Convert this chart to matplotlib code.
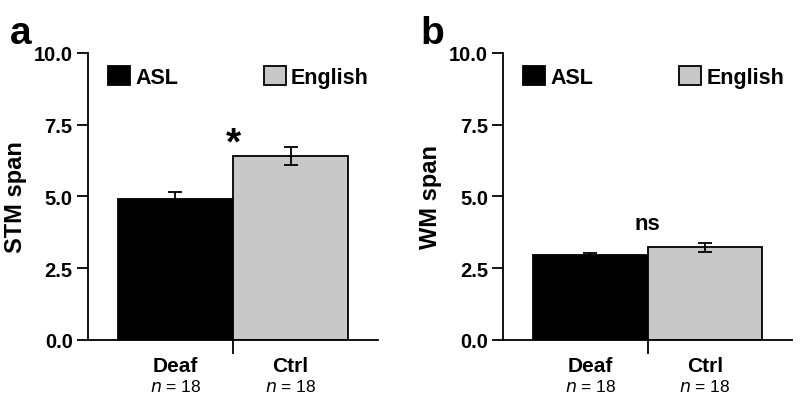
import numpy as np
import matplotlib
matplotlib.use('Agg')
import matplotlib.pyplot as plt
from matplotlib.ticker import FormatStrFormatter

plt.rcParams['font.family'] = ['Liberation Sans', 'DejaVu Sans']

### data
groups = ['Deaf', 'Ctrl']
group_n = [18, 18]
series = ['ASL', 'English']
stm_mean = [4.9, 6.4]
stm_err = [0.25, 0.32]
wm_mean = [2.97, 3.22]
wm_err = [0.05, 0.15]
yticks = [0.0, 2.5, 5.0, 7.5, 10.0]
panel_letters = ['a', 'b']
ylabels = ['STM span', 'WM span']
sig_marks = ['*', 'ns']
sig_heights = [6.85, 4.05]

bar_colors = ['black', '#c8c8c8']

fig = plt.figure(figsize=(8, 4.02), dpi=100)
ax_a = fig.add_axes([0.110, 0.152, 0.3625, 0.714])
ax_b = fig.add_axes([0.629, 0.152, 0.361, 0.714])

def draw_panel(ax, means, errs, ylabel, letter, mark, mark_y, mark_size, letter_x):
  x = np.arange(len(groups))
  for i in range(len(groups)):
    ax.bar(x[i], means[i], width=1.0, color=bar_colors[i], edgecolor='black',
           linewidth=1.3, label=series[i], zorder=2)
    ax.errorbar(x[i], means[i], yerr=errs[i], fmt='none', ecolor='black',
                elinewidth=1.3, capsize=5, capthick=1.3, zorder=3)
  ax.set_xlim(-0.76, 1.76)
  ax.set_ylim(0, 10)
  ax.set_yticks(yticks)
  ax.yaxis.set_major_formatter(FormatStrFormatter('%.1f'))
  ax.set_xticks([0.5])
  ax.set_xticklabels([''])
  ax.tick_params(axis='y', direction='out', length=8, width=1.3, labelsize=14.5, pad=3)
  ax.tick_params(axis='x', direction='out', length=10, width=1.3)
  for lab in ax.get_yticklabels():
    lab.set_fontweight('bold')
  for s in ['top', 'right']:
    ax.spines[s].set_visible(False)
  for s in ['left', 'bottom']:
    ax.spines[s].set_linewidth(1.3)
  ax.set_ylabel(ylabel, fontsize=17, fontweight='bold', labelpad=5)
  # category labels under the bars
  trans = ax.get_xaxis_transform()
  for i in range(len(groups)):
    ax.text(x[i], -0.09, groups[i], transform=trans, ha='center', va='center',
            fontsize=15, fontweight='bold')
    ax.text(x[i], -0.16, '$n$ = %d' % group_n[i], transform=trans, ha='center',
            va='center', fontsize=12.5)
  ax.text(0.5, mark_y, mark, ha='center', va='center', fontsize=mark_size,
          fontweight='bold')
  ax.text(letter_x, 1.07, letter, transform=ax.transAxes, fontsize=28,
          fontweight='bold', ha='left', va='center')
  ax.legend(loc='upper left', bbox_to_anchor=(0.07, 0.955), ncol=2,
            frameon=False, handlelength=1.0, handleheight=1.0,
            handletextpad=0.25, columnspacing=4.0, borderpad=0,
            borderaxespad=0, prop={'size': 15.5, 'weight': 'bold'})

draw_panel(ax_a, stm_mean, stm_err, ylabels[0], panel_letters[0], sig_marks[0], sig_heights[0], 28, -0.27)
draw_panel(ax_b, wm_mean, wm_err, ylabels[1], panel_letters[1], sig_marks[1], sig_heights[1], 16, -0.285)

fig.savefig('out.png', dpi=100)
